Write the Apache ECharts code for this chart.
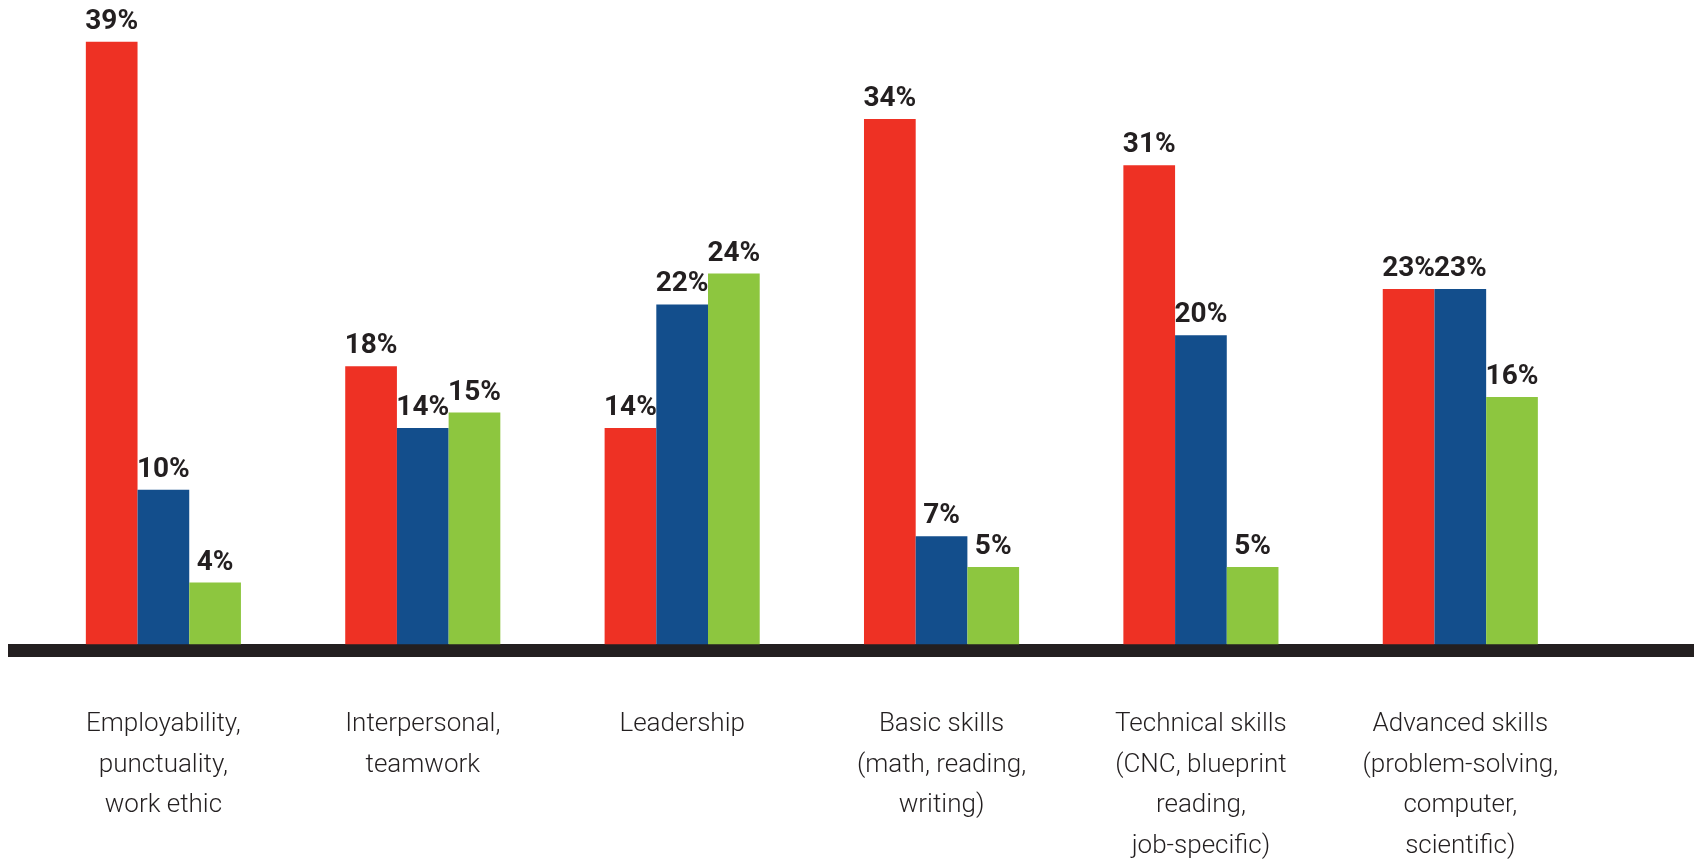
<!DOCTYPE html>
<html>
<head>
<meta charset="utf-8">
<script src="https://cdn.jsdelivr.net/npm/echarts@6/dist/echarts.min.js"></script>
<style>
  html, body { margin: 0; padding: 0; background: #ffffff; }
  #chart { width: 1696px; height: 863px; }
</style>
</head>
<body>
<div id="chart"></div>
<script>
// Skill categories (multi-line labels under the baseline)
const categories = [
  'Employability,\npunctuality,\nwork ethic',
  'Interpersonal,\nteamwork',
  'Leadership',
  'Basic skills\n(math, reading,\nwriting)',
  'Technical skills\n(CNC, blueprint\nreading,\njob-specific)',
  'Advanced skills\n(problem-solving,\ncomputer,\nscientific)'
];

// Percent values for the three groups
const redValues   = [39, 18, 14, 34, 31, 23];
const blueValues  = [10, 14, 22,  7, 20, 23];
const greenValues = [ 4, 15, 24,  5,  5, 16];

const colors = { red: '#ee3124', blue: '#134e8c', green: '#8dc63f' };

const labelStyle = {
  show: true,
  position: 'top',
  distance: 6,
  formatter: '{c}%',
  color: '#231f20',
  fontFamily: 'Roboto',
  fontWeight: 'bold',
  fontSize: 28
};

function barSeries(name, data, color) {
  return {
    name: name,
    type: 'bar',
    xAxisIndex: 0,
    yAxisIndex: 0,
    data: data,
    barWidth: 51.7,
    barGap: '0%',
    itemStyle: { color: color },
    label: labelStyle,
    z: 3,
    animation: false
  };
}

const chart = echarts.init(document.getElementById('chart'), null, { renderer: 'canvas' });

chart.setOption({
  backgroundColor: '#ffffff',
  animation: false,
  grid: [
    // plotting area for the bars
    { left: 33.7, right: 106, top: 26.3, bottom: 218.7, containLabel: false, outerBoundsMode: 'none' },
    // full-width grid whose axis line forms the heavy baseline
    { left: 8, right: 2, top: 26.3, bottom: 212.5, containLabel: false, outerBoundsMode: 'none' }
  ],
  xAxis: [
    {
      type: 'category',
      gridIndex: 0,
      data: categories,
      axisLine: { show: false },
      axisTick: { show: false },
      axisLabel: {
        margin: 60,
        interval: 0,
        color: '#231f20',
        fontFamily: 'Roboto',
        fontWeight: 300,
        fontSize: 26,
        lineHeight: 40.5,
        align: 'center'
      }
    },
    {
      type: 'value',
      gridIndex: 1,
      min: 0,
      max: 1,
      axisLine: { show: true, lineStyle: { color: '#231f20', width: 13, cap: 'butt' } },
      axisTick: { show: false },
      axisLabel: { show: false },
      splitLine: { show: false }
    }
  ],
  yAxis: [
    {
      type: 'value',
      gridIndex: 0,
      min: 0,
      max: 40,
      show: false,
      splitLine: { show: false }
    },
    {
      type: 'value',
      gridIndex: 1,
      min: 0,
      max: 1,
      show: false,
      splitLine: { show: false }
    }
  ],
  series: [
    barSeries('Red', redValues, colors.red),
    barSeries('Blue', blueValues, colors.blue),
    barSeries('Green', greenValues, colors.green)
  ]
});
</script>
</body>
</html>
